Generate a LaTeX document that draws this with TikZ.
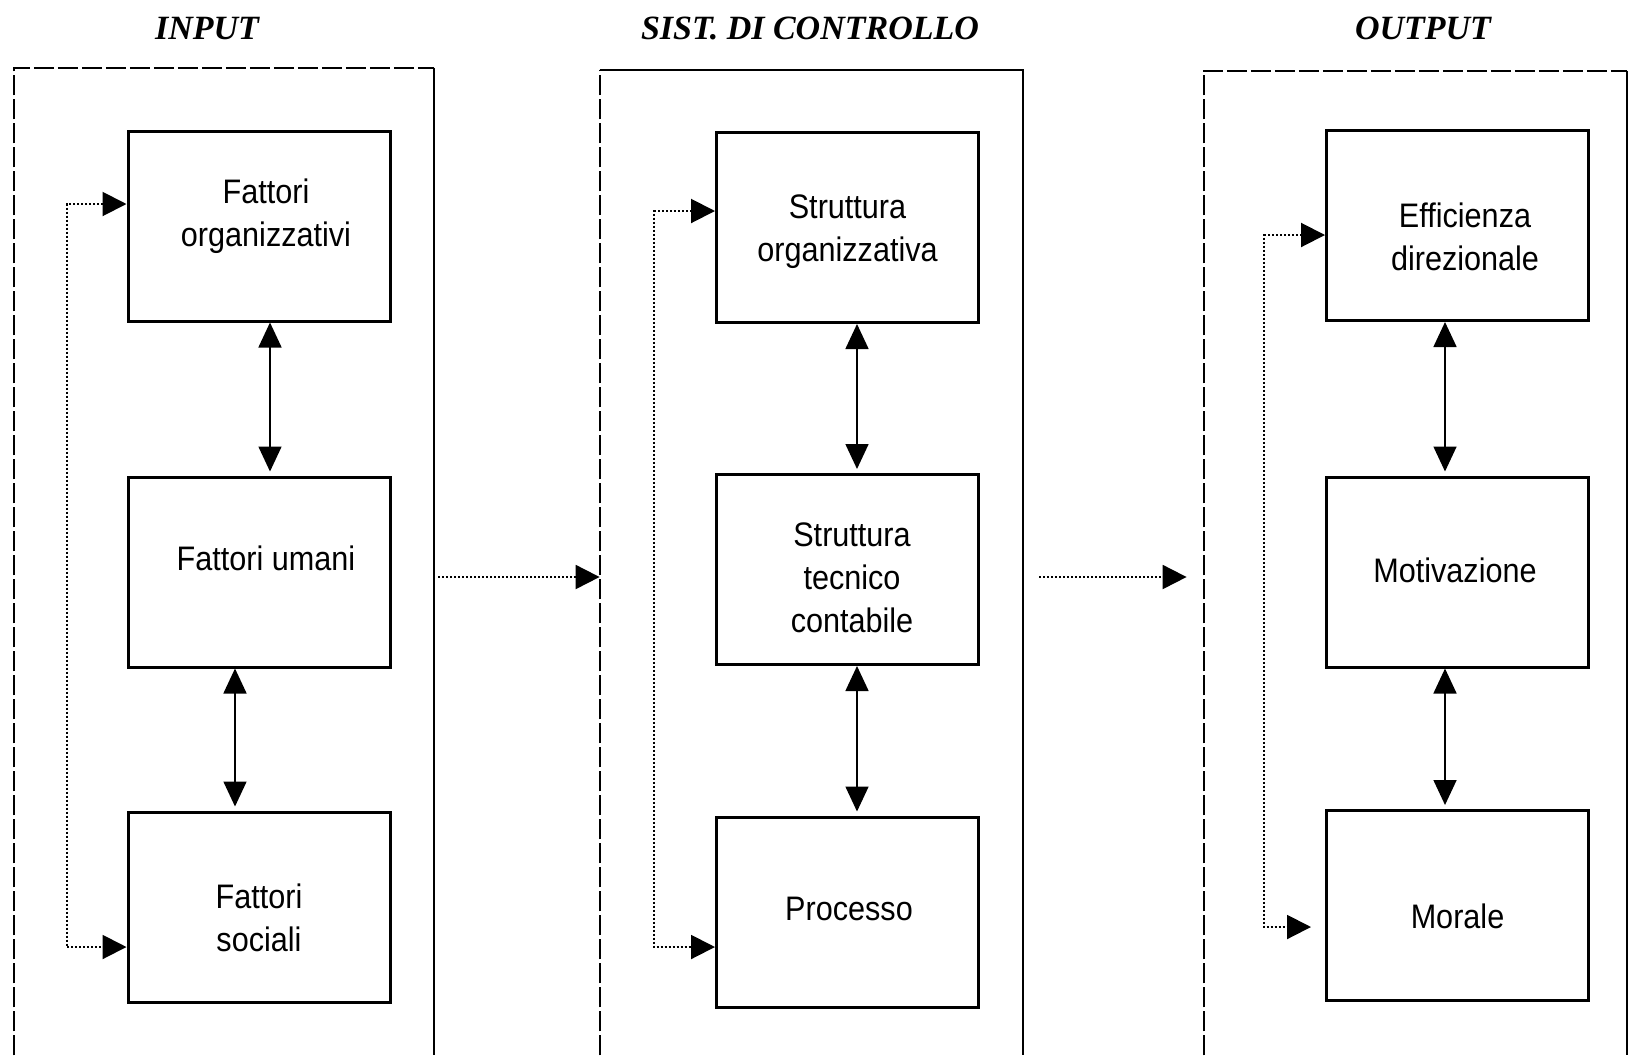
\documentclass[tikz,border=0pt]{standalone}
\usepackage{fontspec}
\setmainfont{Liberation Serif}
\setsansfont{Liberation Sans}[FakeStretch=0.9]
\usetikzlibrary{arrows.meta,calc}
\begin{document}
\begin{tikzpicture}[x=0.5pt,y=-0.5pt,
  box/.style={draw, line width=1.5pt, minimum width=131pt, minimum height=95pt, inner sep=0pt},
  lbl/.style={align=center, inner sep=0pt, font=\sffamily\fontsize{17}{21.5}\selectfont},
  ttl/.style={anchor=base, inner sep=0pt, font=\rmfamily\bfseries\itshape\fontsize{17}{20}\selectfont},
  frame/.style={draw=none, inner sep=0pt},
  dashline/.style={line width=1pt, dash pattern=on 10pt off 2pt},
  solidline/.style={line width=1pt},
  dbl/.style={line width=0.8pt, {Triangle[length=12.5pt,width=11.5pt]}-{Triangle[length=12.5pt,width=11.5pt]}},
  fb/.style={line width=1pt, dash pattern=on 1pt off 1pt, {Triangle[length=12pt,width=12pt]}-{Triangle[length=12pt,width=12pt]}},
  flow/.style={line width=1pt, dash pattern=on 1pt off 1pt, -{Triangle[length=12pt,width=12pt]}}
]
\useasboundingbox (0,0) rectangle (1631,1055);
\fill[white] (0,0) rectangle (1631,1055);

% titles
\node[ttl] (tin) at (207,39) {INPUT};
\node[ttl] (tsc) at (810,39) {SIST. DI CONTROLLO};
\node[ttl] (tout) at (1423,39) {OUTPUT};

% containers (open at the bottom)
\node[frame, minimum width=210pt, minimum height=493.5pt] (cin) at (224,561.5) {};
\node[frame, minimum width=211.5pt, minimum height=492.5pt] (cs) at (811.5,562.5) {};
\node[frame, minimum width=211.5pt, minimum height=492pt] (co) at (1415.5,563) {};

\draw[dashline] (cin.south west) -- (cin.north west) -- (cin.north east);
\draw[solidline] (cin.north east) -- (cin.south east);
\draw[dashline] (cs.south west) -- (cs.north west);
\draw[solidline] (cs.north west) -- (cs.north east) -- (cs.south east);
\draw[dashline] (co.south west) -- (co.north west) -- (co.north east);
\draw[solidline] (co.north east) -- (co.south east);

% boxes
\node[box] (f1) at (259,226) {};
\node[box] (f2) at (259,572) {};
\node[box] (f3) at (259,907) {};
\node[box] (s1) at (847.5,227.5) {};
\node[box] (s2) at (847.5,569.5) {};
\node[box] (s3) at (847.5,912) {};
\node[box] (o1) at (1457.5,225.5) {};
\node[box] (o2) at (1457.5,572) {};
\node[box] (o3) at (1457.5,905.5) {};

% box texts
\node[lbl] (tf1) at ($(f1)+(7,-10)$) {Fattori\\organizzativi};
\node[lbl] (tf2) at ($(f2)+(7,-14)$) {Fattori umani};
\node[lbl] (tf3) at ($(f3)+(0,11)$) {Fattori\\sociali};
\node[lbl] (ts1) at ($(s1)+(0,4.5)$) {Struttura\\organizzativa};
\node[lbl] (ts2) at ($(s2)+(4.5,8.5)$) {Struttura\\tecnico\\contabile};
\node[lbl] (ts3) at ($(s3)+(1.5,-3)$) {Processo};
\node[lbl] (to1) at ($(o1)+(7.5,11.5)$) {Efficienza\\direzionale};
\node[lbl] (to2) at ($(o2)+(-2.5,-2)$) {Motivazione};
\node[lbl] (to3) at ($(o3)+(0,10.5)$) {Morale};

% double arrows
\draw[dbl, shorten >=2pt] ($(f1.south)+(11,0)$) -- ($(f2.north)+(11,0)$);
\draw[dbl, shorten >=2pt] ($(f2.south)+(-24,0)$) -- ($(f3.north)+(-24,0)$);
\draw[dbl, shorten >=2pt] ($(s1.south)+(9.5,0)$) -- ($(s2.north)+(9.5,0)$);
\draw[dbl, shorten >=2pt] ($(s2.south)+(9.5,0)$) -- ($(s3.north)+(9.5,0)$);
\draw[dbl, shorten >=2pt] ($(o1.south)+(-12.5,0)$) -- ($(o2.north)+(-12.5,0)$);
\draw[dbl, shorten >=2pt] ($(o2.south)+(-12.5,0)$) -- ($(o3.north)+(-12.5,0)$);

% feedback dotted arrows
\draw[fb] ($(f1.west)+(0,-22)$) -- ++(-60,0) |- ($(f3.west)+(0,40)$);
\draw[fb] ($(s1.west)+(0,-16.5)$) -- ++(-61,0) |- ($(s3.west)+(0,35)$);
\draw[fb, shorten >=7pt] ($(o1.west)+(0,9.5)$) -- ++(-61,0) |- ($(o3.west)+(0,21.5)$);

% flows between containers
\draw[flow] ($(cin.east)+(4,15.5)$) coordinate (h1) -- (h1 -| cs.west);
\draw[flow, shorten >=8.5pt] ($(cs.east)+(16,14.5)$) coordinate (h2) -- (h2 -| co.west);
\end{tikzpicture}
\end{document}
